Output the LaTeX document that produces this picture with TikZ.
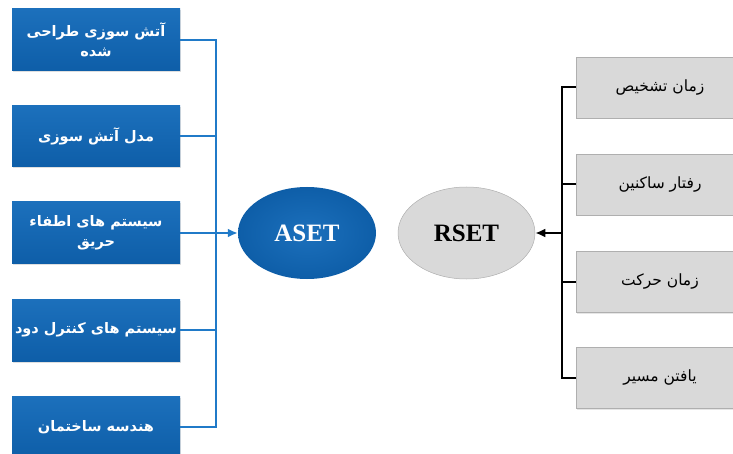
\documentclass[tikz,border=0pt]{standalone}
\usepackage{fontspec}
\setmainfont{Liberation Serif}
\newfontfamily\arabicfont[Script=Arabic]{DejaVu Sans}
\TeXXeTstate=1
\usetikzlibrary{shapes.geometric,arrows.meta,shadows}
\definecolor{boxblue}{RGB}{14,94,168}
\definecolor{boxblueT}{RGB}{28,112,188}
\definecolor{lineblue}{RGB}{32,122,200}
\definecolor{boxgray}{RGB}{217,217,217}
\definecolor{edgegray}{RGB}{175,175,175}
\tikzset{
  bluebox/.style={rectangle, minimum width=168pt, minimum height=62pt, inner sep=2pt,
    top color=boxblueT, bottom color=boxblue, draw=none, text=white,
    font=\arabicfont\bfseries\fontsize{14.5}{20}\selectfont, align=center,
    drop shadow={opacity=0.25, shadow xshift=1pt, shadow yshift=-1.5pt}},
  graybox/.style={rectangle, minimum width=190pt, minimum height=61pt, inner sep=2pt,
    fill=boxgray, draw=edgegray, line width=0.4pt, text=black,
    font=\arabicfont\fontsize{15.5}{18}\selectfont, align=center,
    drop shadow={opacity=0.2, shadow xshift=1pt, shadow yshift=-1.5pt}},
  blueell/.style={ellipse, minimum width=138pt, minimum height=92pt, inner sep=0pt,
    inner color=boxblueT, outer color=boxblue, draw=none, text=white,
    font=\bfseries\fontsize{25}{28}\selectfont},
  grayell/.style={ellipse, minimum width=137pt, minimum height=92pt, inner sep=0pt,
    fill=boxgray, draw=edgegray, line width=0.5pt, text=black,
    font=\bfseries\fontsize{25}{28}\selectfont},
  blueline/.style={draw=lineblue, line width=2pt},
  blackline/.style={draw=black, line width=2pt},
  tip/.style={-{Latex[length=10pt,width=9pt]}},
}
\begin{document}
\begin{tikzpicture}[x=1pt,y=-1pt]
\useasboundingbox (0,0) rectangle (733,454);
\node[bluebox] (b1) at (96,40) {\beginR آتش سوزی طراحی\endR\\\beginR شده\endR};
\node[bluebox,minimum height=61pt] (b2) at (96,136.5) {\beginR مدل آتش سوزی\endR};
\node[bluebox] (b3) at (96,233) {\beginR سیستم های اطفاء\endR\\\beginR حریق\endR};
\node[bluebox] (b4) at (96,330) {\beginR سیستم های کنترل دود\endR};
\node[bluebox] (b5) at (96,427) {\beginR هندسه ساختمان\endR};

\node[graybox,anchor=west] (g1) at (576,87.5) {};
\node[graybox,anchor=west] (g2) at (576,184.5) {};
\node[graybox,anchor=west] (g3) at (576,281.5) {};
\node[graybox,anchor=west] (g4) at (576,377.5) {};
\node[font=\arabicfont\fontsize{15.5}{18}\selectfont] (t1) at (660,87.5) {\beginR زمان تشخیص\endR};
\node[font=\arabicfont\fontsize{15.5}{18}\selectfont] (t2) at (660,184.5) {\beginR رفتار ساکنین\endR};
\node[font=\arabicfont\fontsize{15.5}{18}\selectfont] (t3) at (660,281.5) {\beginR زمان حرکت\endR};
\node[font=\arabicfont\fontsize{15.5}{18}\selectfont] (t4) at (660,377.5) {\beginR یافتن مسیر\endR};

\node[blueell] (aset) at (307,233) {ASET};
\node[grayell] (rset) at (466.5,233) {RSET};

\coordinate (jb) at (216,233);
\coordinate (jr) at (562,233);

\draw[blueline] (b1.east) -| (jb);
\draw[blueline] (b2.east) -| (jb);
\draw[blueline] (b4.east) -| (jb);
\draw[blueline] (b5.east) -| (jb);
\draw[blueline,tip] (b3.east) -- (aset.west);

\draw[blackline] (g1.west) -| (jr);
\draw[blackline] (g2.west) -| (jr);
\draw[blackline] (g3.west) -| (jr);
\draw[blackline] (g4.west) -| (jr);
\draw[blackline,tip] (jr) -- (rset.east);
\end{tikzpicture}
\end{document}
